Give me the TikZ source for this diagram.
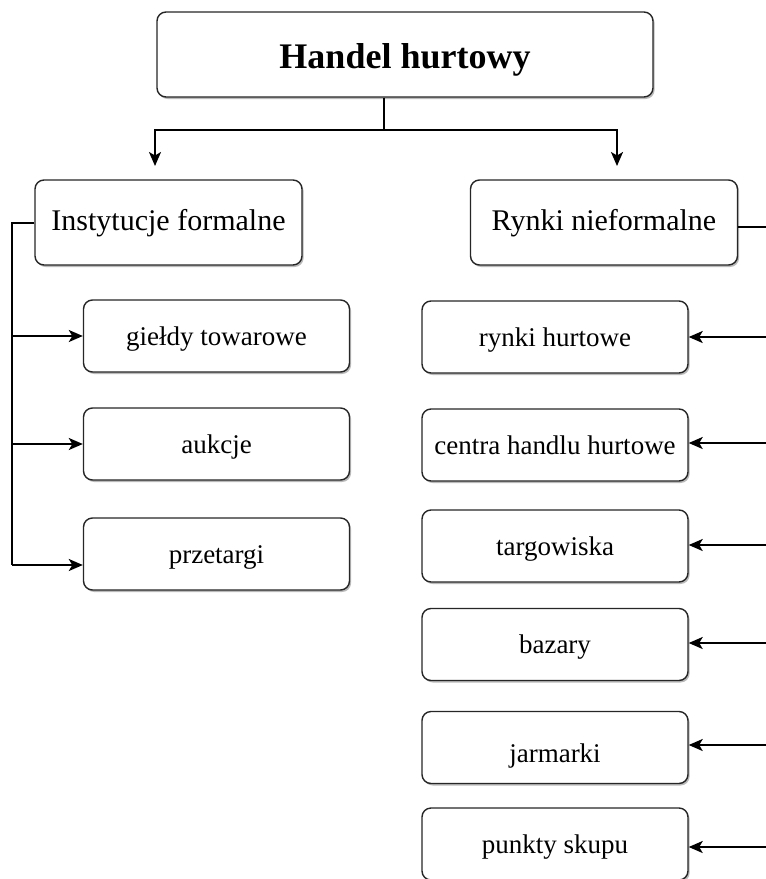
\documentclass[tikz,border=0pt]{standalone}
\usepackage{fontspec}
\setmainfont{Liberation Serif}
\usetikzlibrary{arrows.meta,shadows}
\begin{document}
\begin{tikzpicture}[x=1pt,y=-1pt,
  box/.style={draw=black!85,line width=1.4pt,rounded corners=9pt,fill=white,
    inner sep=0pt,text depth=0pt,
    drop shadow={shadow xshift=1.6pt,shadow yshift=-2pt,fill=black!45,opacity=0.6}},
  big/.style={box,text height=28pt,minimum width=496pt,minimum height=85pt,font=\fontsize{36}{40}\selectfont\bfseries},
  mid/.style={box,text height=16pt,minimum width=267pt,minimum height=85pt,font=\fontsize{30}{34}\selectfont},
  small/.style={box,text height=18pt,minimum width=266pt,minimum height=72pt,font=\fontsize{27}{31}\selectfont},
  conn/.style={line width=2pt,black},
  arr/.style={conn,-{Stealth[length=14pt,width=12pt,inset=3.5pt]}}]
\useasboundingbox (0,0) rectangle (766,879);
% nodes
\node[big] (top) at (405,54.5) {Handel hurtowy};
\node[mid] (inst) at (168.5,222.5) {Instytucje formalne};
\node[mid] (ryn) at (604,222.5) {Rynki nieformalne};
\node[small] (giel) at (216.5,336) {giełdy towarowe};
\node[small] (auk) at (216.5,444) {aukcje};
\node[small] (prz) at (216.5,554) {przetargi};
\node[small] (rh) at (555,337) {rynki hurtowe};
\node[small] (chh) at (555,445) {centra handlu hurtowe};
\node[small] (targ) at (555,546) {targowiska};
\node[small] (baz) at (555,644.5) {bazary};
\node[small] (jar) at (555,747.5) {\raisebox{-6pt}{jarmarki}};
\node[small] (psk) at (555,844) {punkty skupu};
% coordinates
\coordinate (j) at (384,130);
\coordinate (aL) at (155,166);
\coordinate (aR) at (617,166);
\coordinate (lt) at (12,222.5);
\coordinate (lb) at (12,565);
\coordinate (rt) at (766,227);
\coordinate (r1) at (766,337);
\coordinate (r2) at (766,443);
\coordinate (r3) at (766,545);
\coordinate (r4) at (766,643);
\coordinate (r5) at (766,745);
\coordinate (r6) at (766,847);
% connectors
\draw[conn] (top.south -| j) -- (j);
\draw[arr] (j) -| (aL);
\draw[arr] (j) -| (aR);
\draw[conn] (inst.west) -- (lt) -- (lb);
\draw[arr] (lt |- giel.west) -- (giel.west);
\draw[arr] (lt |- auk.west) -- (auk.west);
\draw[arr] (lb) -- (prz.west |- lb);
\draw[conn] (ryn.east |- rt) -- (rt);
\draw[arr] (r1) -- (rh.east |- r1);
\draw[arr] (r2) -- (chh.east |- r2);
\draw[arr] (r3) -- (targ.east |- r3);
\draw[arr] (r4) -- (baz.east |- r4);
\draw[arr] (r5) -- (jar.east |- r5);
\draw[arr] (r6) -- (psk.east |- r6);
\end{tikzpicture}
\end{document}
